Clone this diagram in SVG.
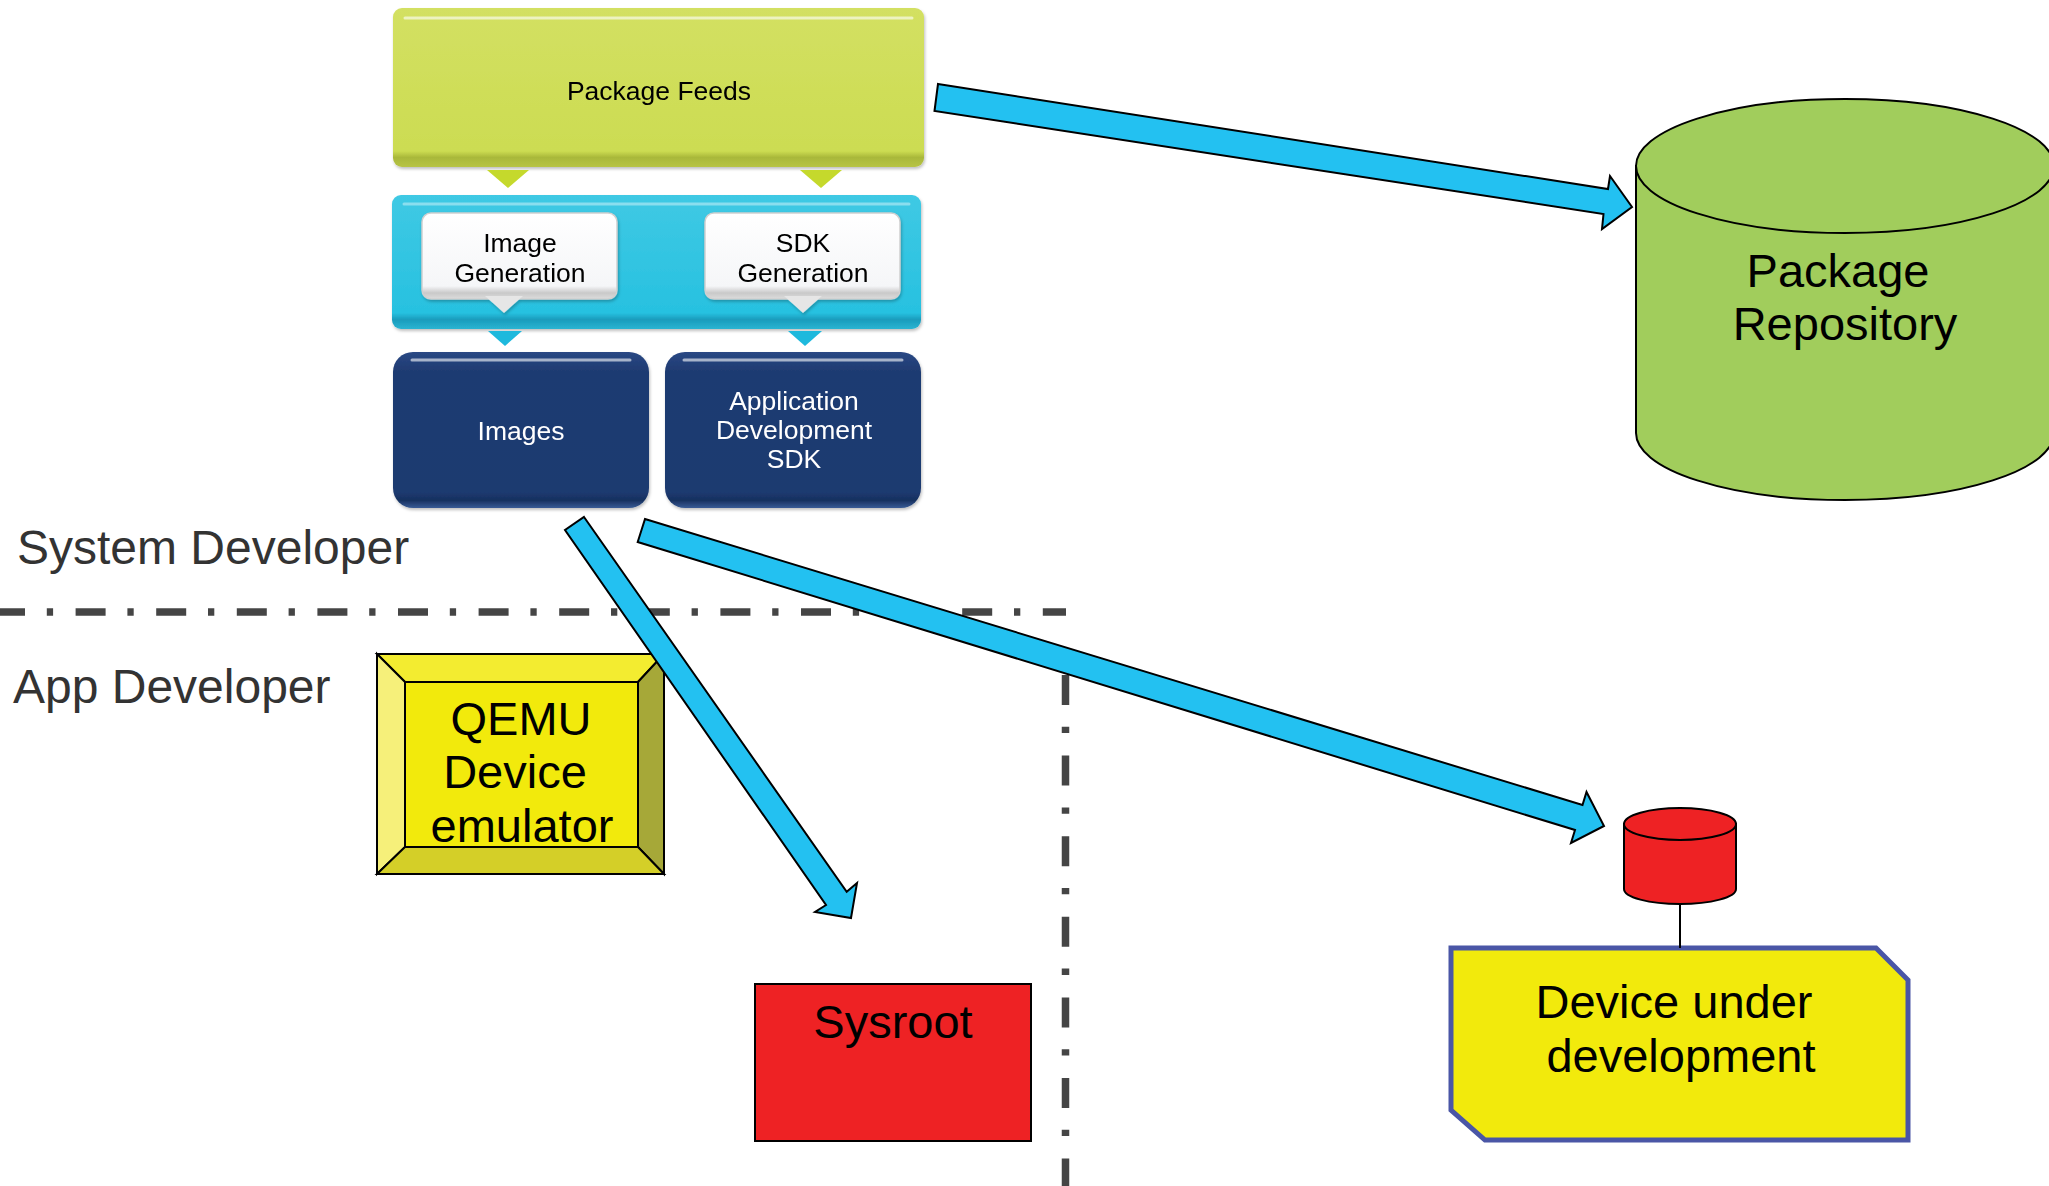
<svg xmlns="http://www.w3.org/2000/svg" width="2049" height="1186" viewBox="0 0 2049 1186">
  <style>
    .t { font-family: "Liberation Sans", Arial, sans-serif; text-anchor: middle; }
    .lane { font-family: "Liberation Sans", Arial, sans-serif; font-size: 48px; fill: #333333; }
    .big { font-size: 47px; fill: #000000; }
    .mid { font-size: 26.5px; }
    .arrow { fill: #23C1F1; stroke: #000000; stroke-width: 2; stroke-linejoin: miter; }
    .divider { fill: none; stroke: #454545; stroke-width: 7.5; stroke-dasharray: 30 21.8 6.3 22.5; }
    .shape { stroke: #000000; stroke-width: 2; }
    .hl { fill: none; stroke: #FFFFFF; stroke-width: 3; stroke-linecap: round; }
  </style>
  <defs>
    <linearGradient id="gLime" x1="0" y1="0" x2="0" y2="1">
      <stop offset="0" stop-color="#D3E062"/>
      <stop offset="0.9" stop-color="#CCDC52"/>
      <stop offset="0.94" stop-color="#A9B83A"/>
      <stop offset="1" stop-color="#B7C445"/>
    </linearGradient>
    <linearGradient id="gCyan" x1="0" y1="0" x2="0" y2="1">
      <stop offset="0" stop-color="#3FC9E4"/>
      <stop offset="0.88" stop-color="#27C1E0"/>
      <stop offset="0.93" stop-color="#1A9CBC"/>
      <stop offset="1" stop-color="#2BB4D2"/>
    </linearGradient>
    <linearGradient id="gWhite" x1="0" y1="0" x2="0" y2="1">
      <stop offset="0" stop-color="#FFFFFF"/>
      <stop offset="0.85" stop-color="#F5F6F8"/>
      <stop offset="0.93" stop-color="#C9C9C9"/>
      <stop offset="1" stop-color="#DCDCDC"/>
    </linearGradient>
    <linearGradient id="gNavy" x1="0" y1="0" x2="0" y2="1">
      <stop offset="0" stop-color="#2A4884"/>
      <stop offset="0.12" stop-color="#1F3B72"/>
      <stop offset="0.9" stop-color="#1E3A70"/>
      <stop offset="0.95" stop-color="#16305F"/>
      <stop offset="1" stop-color="#3A5C96"/>
    </linearGradient>
    <filter id="soft" x="-5%" y="-5%" width="110%" height="115%">
      <feDropShadow dx="1" dy="2" stdDeviation="1.5" flood-color="#000000" flood-opacity="0.25"/>
    </filter>
  </defs>

  <rect width="2049" height="1186" fill="#FFFFFF"/>

  <!-- lane dividers -->
  <g id="dividers">
    <path class="divider" d="M-5,612 H1066"/>
    <path class="divider" d="M1065.5,675 V1190"/>
  </g>

  <!-- lane labels -->
  <g id="lanes">
    <text class="lane" x="17" y="564">System Developer</text>
    <text class="lane" x="13" y="703">App Developer</text>
  </g>

  <!-- build stack -->
  <g id="package-feeds" filter="url(#soft)">
    <rect x="393" y="8" width="531" height="159" rx="9" fill="url(#gLime)"/>
    <path class="hl" d="M405,18 H912" stroke-opacity="0.6"/>
    <text class="t mid" x="659" y="100">Package Feeds</text>
  </g>
  <g id="feed-pointers" fill="#C5D92C">
    <polygon points="487,170 529,170 508,188"/>
    <polygon points="800,170 842,170 821,188"/>
  </g>

  <g id="generation" filter="url(#soft)">
    <rect x="392" y="195" width="529" height="134" rx="9" fill="url(#gCyan)"/>
    <path class="hl" d="M404,204 H909" stroke-opacity="0.4"/>
  </g>
  <g id="image-generation" filter="url(#soft)">
    <rect x="422" y="213" width="195" height="86" rx="9" fill="url(#gWhite)" stroke="#D0D0D0" stroke-width="1.5"/>
    <polygon points="485,296 523,296 504,313" fill="#E6E6E6"/>
    <text class="t mid" x="520" y="252">Image</text>
    <text class="t mid" x="520" y="282">Generation</text>
  </g>
  <g id="sdk-generation" filter="url(#soft)">
    <rect x="705" y="213" width="195" height="86" rx="9" fill="url(#gWhite)" stroke="#D0D0D0" stroke-width="1.5"/>
    <polygon points="784,296 822,296 803,313" fill="#E6E6E6"/>
    <text class="t mid" x="803" y="252">SDK</text>
    <text class="t mid" x="803" y="282">Generation</text>
  </g>
  <g id="gen-pointers" fill="#1EB9DD">
    <polygon points="488,331 522,331 505,346"/>
    <polygon points="788,331 822,331 805,346"/>
  </g>

  <g id="images" filter="url(#soft)">
    <rect x="393" y="352" width="256" height="156" rx="20" fill="url(#gNavy)"/>
    <path class="hl" d="M412,360 H630" stroke="#7F9BCB" stroke-opacity="0.6"/>
    <text class="t mid" x="521" y="440" fill="#FFFFFF">Images</text>
  </g>
  <g id="app-sdk" filter="url(#soft)">
    <rect x="665" y="352" width="256" height="156" rx="20" fill="url(#gNavy)"/>
    <path class="hl" d="M684,360 H902" stroke="#7F9BCB" stroke-opacity="0.6"/>
    <text class="t mid" x="794" y="410" fill="#FFFFFF">Application</text>
    <text class="t mid" x="794" y="439" fill="#FFFFFF">Development</text>
    <text class="t mid" x="794" y="468" fill="#FFFFFF">SDK</text>
  </g>

  <!-- package repository -->
  <g id="package-repository">
    <path class="shape" fill="#A1CD5C" d="M1636,166 V433 A209,67 0 0 0 2054,433 V166 Z"/>
    <ellipse class="shape" fill="#A1CD5C" cx="1845" cy="166" rx="209" ry="67"/>
    <text class="t big" x="1838" y="287">Package</text>
    <text class="t big" x="1845" y="340">Repository</text>
  </g>

  <!-- QEMU emulator -->
  <g id="qemu" stroke="#000000" stroke-width="2" stroke-linejoin="miter">
    <polygon points="377,654 664,654 638,682 405,682" fill="#F3EC30"/>
    <polygon points="377,654 405,682 405,847 377,874" fill="#F6F07A"/>
    <polygon points="664,654 664,874 638,847 638,682" fill="#A6A838"/>
    <polygon points="377,874 405,847 638,847 664,874" fill="#D4CF28"/>
    <rect x="405" y="682" width="233" height="165" fill="#F2EA0C"/>
    <text class="t big" x="521" y="735" stroke="none">QEMU</text>
    <text class="t big" x="515" y="788" stroke="none">Device</text>
    <text class="t big" x="522" y="842" stroke="none">emulator</text>
  </g>

  <!-- sysroot -->
  <g id="sysroot">
    <rect class="shape" x="755" y="984" width="276" height="157" fill="#EE2224"/>
    <text class="t big" x="893" y="1038">Sysroot</text>
  </g>

  <!-- target device -->
  <g id="device-storage">
    <path class="shape" fill="#EE2224" d="M1624,824 V889 A56,15 0 0 0 1736,889 V824 Z"/>
    <ellipse class="shape" fill="#EE2224" cx="1680" cy="824" rx="56" ry="16"/>
  </g>
  <g id="device">
    <polygon points="1451,948 1876,948 1908,980 1908,1140 1485,1140 1451,1110" fill="#F2EA0C" stroke="#4A56A6" stroke-width="5" stroke-linejoin="miter"/>
    <text class="t big" x="1674" y="1018">Device under</text>
    <text class="t big" x="1681" y="1072">development</text>
  </g>

  <!-- connectors -->
  <g id="connectors">
    <line x1="1680" y1="904" x2="1680" y2="948" stroke="#000000" stroke-width="2"/>
    <polygon class="arrow" points="938,84 1608,189 1610,176 1632,207 1602,229 1603.5,214 934.5,111"/>
    <polygon class="arrow" points="584,517 846.7,891.7 857,883 851,918 815,912 826,905 565,530"/>
    <polygon class="arrow" points="645,519 1582.5,805 1586.5,792 1604,826 1571,843 1575,830 637.7,542"/>
  </g>
</svg>
